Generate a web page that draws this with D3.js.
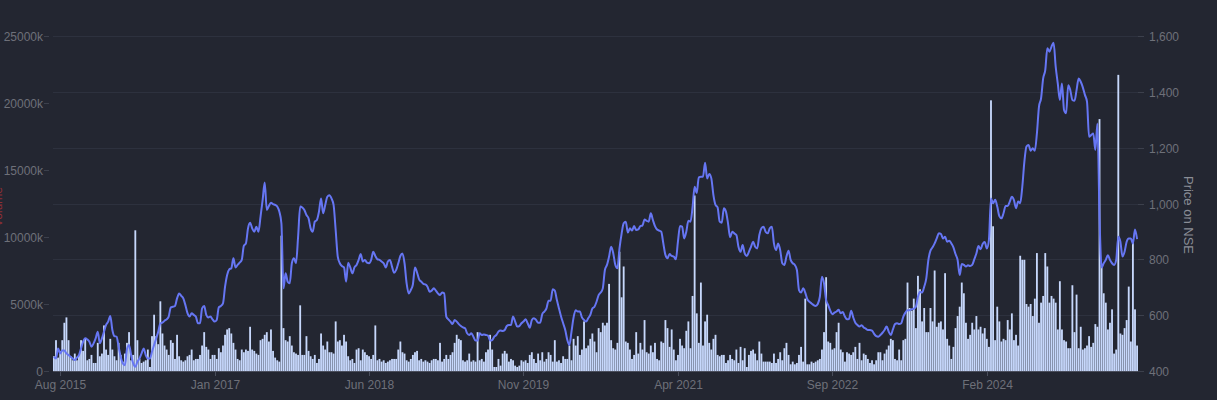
<!DOCTYPE html>
<html><head><meta charset="utf-8">
<script src="https://cdn.jsdelivr.net/npm/d3@7"></script>
<style>
html,body{margin:0;padding:0;background:#232631;}
svg{display:block;}
text{font-family:"Liberation Sans",Arial,sans-serif;}
</style></head>
<body><svg id="chart" width="1217" height="400"></svg>
<script>
// ---- data ----
const startDate = "2015-07-06"; // first weekly category
const tickLabels = ["Aug 2015","Jan 2017","Jun 2018","Nov 2019","Apr 2021","Sep 2022","Feb 2024"];
const volumeTicks = [0,5000,10000,15000,20000,25000]; // in thousands
const priceTicks = [400,600,800,1000,1200,1400,1600];
// weekly traded volume (thousands)
const volume = [
1100,2300,1000,1500,2300,3600,4000,2300,1100,800,
1300,800,1200,2300,1500,2400,800,900,1200,600,
600,2100,1100,1300,3400,1600,1200,2400,1600,1100,
800,2100,1200,700,1300,2100,2900,800,1200,10500,
2300,900,600,700,800,1600,300,2600,4200,2600,
2000,5200,2800,1900,1600,1200,2300,2100,900,2700,
1100,800,700,800,1100,1200,1600,800,900,900,
1200,1900,2900,1800,1600,900,1200,1200,900,1700,
1400,1900,2700,3100,3200,2800,2100,1600,900,800,
1600,1400,1600,1500,3300,1600,1500,1300,1200,2300,
2400,2700,2900,2200,3100,1500,1000,800,700,10100,
3200,2300,2200,2600,1900,1400,1300,1200,4900,1200,
1200,2600,1500,1100,900,1200,600,900,2800,1900,
1600,2200,1400,1400,1300,3700,2200,2300,1900,2700,
2200,1100,800,900,600,1600,1700,800,1600,1400,
1200,1100,900,1200,3400,800,900,700,800,600,
700,800,900,900,900,1600,2200,1400,1300,800,700,900,1200,
1400,1500,800,900,700,800,700,600,800,900,
900,800,2100,700,900,1200,900,1200,1400,2100,
2700,2400,2300,800,700,800,1300,700,800,700,
2900,800,900,700,1400,1600,2700,1600,300,300,
900,400,1300,1500,1300,700,900,800,400,300,
400,800,700,800,600,1200,1400,900,600,1300,
800,1400,700,900,1400,1200,700,2300,700,800,
600,1100,900,900,1900,800,2400,1900,2600,1200,
1600,3700,1700,1900,2400,2800,2200,1400,3200,2900,
3600,3400,3600,6500,2300,1700,1600,2100,8900,5500,
7800,2200,2100,1600,900,1200,2900,1300,2100,1600,
3800,1400,1300,1900,1400,2100,900,800,2200,2100,
3800,3200,1800,3100,1600,800,1200,2400,1900,1700,
3000,3700,1700,5600,13100,4300,2100,6600,1900,3700,
4200,2100,1600,2400,2700,1200,1100,1200,1200,600,
800,1200,900,800,1600,600,1800,800,1700,300,
1200,1500,1600,1300,800,2200,1300,700,700,700,700,600,1300,
600,900,1400,800,1700,2100,1200,500,700,
500,600,1200,1800,700,5400,500,500,700,600,
700,800,900,1600,2900,7000,2200,2100,1600,1700,
2900,3600,1600,1400,700,1400,1300,1200,1400,1800,
900,2100,800,1300,1200,900,600,800,500,800,
1400,1400,800,1300,1600,1900,2400,2300,900,800,
1600,800,2300,2400,6600,4700,4500,5400,3200,7100,
6100,3700,4700,2900,2900,4700,3700,7500,3300,3600,
3700,3100,7300,2400,1900,900,1800,3200,4100,4800,
6600,5800,3600,2400,2700,3600,3100,4100,3100,3300,
2800,3200,2400,1800,20200,10800,2300,4800,3700,2200,
2400,2300,3800,3100,4300,2300,2700,1900,8600,8300,
8300,5000,4800,5000,4100,5400,8800,3600,5100,5600,
8800,7800,5100,5600,5400,5100,3100,6700,3100,2300,
2200,1700,1700,6400,2900,5700,1700,3300,1600,1700,
1900,2600,1800,2100,3500,3300,18800,7900,5800,5100,
3100,3600,4600,1300,1600,22100,2800,2700,3200,3800,
6300,2200,9800,4600,1900
];
// weekly close price on NSE
const price = [
451,445,481,463,473,473,463,457,451,445,
439,448,457,481,505,517,513,505,487,499,
517,541,499,517,541,565,577,597,547,525,
523,487,451,427,421,478,493,457,427,415,
433,445,463,481,457,445,445,469,493,517,
541,571,573,580,585,595,628,630,633,660,
678,669,660,636,607,595,607,601,595,571,
571,624,633,601,592,595,585,577,583,628,
633,642,702,744,764,768,804,771,780,788,
798,848,857,911,931,911,899,917,899,953,
1012,1075,977,991,1003,998,995,989,971,929,
696,750,720,714,786,804,786,881,989,986,
977,959,947,911,899,935,941,971,1018,965,
995,1024,1030,1018,995,905,810,786,776,771,
720,788,771,750,771,780,798,819,792,798,
788,786,798,827,812,800,798,792,786,771,
792,798,774,752,762,786,812,821,786,714,
678,690,710,
771,753,728,720,712,710,702,
684,688,696,688,678,672,681,678,595,585,
577,568,583,577,568,561,556,553,535,529,
535,523,509,509,535,529,531,529,527,509,
511,523,529,541,545,543,547,561,565,565,
595,577,559,561,571,577,585,571,555,583,
589,583,573,573,604,613,624,652,652,693,
688,654,624,595,571,547,511,493,541,592,
618,613,613,592,583,577,589,601,624,630,
648,672,681,696,762,780,810,845,822,780,
768,839,891,929,935,896,911,903,919,905,
907,919,921,943,938,935,965,941,919,907,
903,899,857,816,804,819,812,810,800,863,
919,917,875,899,938,935,986,1060,1038,1094,
1096,1096,1146,1090,1106,1090,1030,995,986,935,
931,983,971,929,879,899,893,887,845,827,
851,821,812,827,845,863,845,839,887,911,
917,899,893,911,917,857,
833,857,833,786,780,810,831,798,786,
780,762,690,681,696,681,657,648,642,636,
633,640,666,738,714,654,636,616,603,609,
613,619,607,611,595,585,587,616,592,573,
565,559,564,556,552,547,547,545,533,525,
523,529,537,547,559,541,529,549,568,571,
568,571,595,609,618,618,621,623,630,666,
684,681,702,732,798,831,843,857,875,893,
891,875,881,863,867,857,843,819,798,744,
783,780,774,779,776,780,800,821,848,836,
855,862,839,869,1018,1001,1013,989,955,947,
965,991,991,1007,1024,1012,983,1007,1001,1060,
1150,1204,1210,1189,1198,1189,1251,1347,1377,1448,
1478,1556,1544,1562,1576,1490,1430,1371,1430,1335,
1323,1424,1406,1371,1368,1406,1448,1436,1416,1389,
1365,1239,1245,1251,1192,1287,953,771,786,798,
815,798,786,780,798,881,863,810,827,863,
875,875,857,907,872
];

// ---- chart ----
(function () {
const N = Math.min(volume.length, price.length);
const dates = d3.timeWeek.every(1).range(new Date(startDate + "T00:00:00"), new Date(2030, 0, 1)).slice(0, N);
const svg = d3.select("#chart");
const mL = 53, mR = 1138, mT = 36, mB = 371;
const axisColor = "#6e7079";

const x = d3.scaleBand().domain(d3.range(N)).range([mL, mR]).paddingInner(0.12).paddingOuter(0);
const yV = d3.scaleLinear().domain([0, 25000]).range([mB, mT]);
const yP = d3.scaleLinear().domain([400, 1600]).range([mB, mT]);

// grid lines (price axis)
svg.append("g").selectAll("line").data(priceTicks.slice(1)).join("line")
  .attr("x1", mL).attr("x2", mR)
  .attr("y1", d => Math.round(yP(d)) + 0.5).attr("y2", d => Math.round(yP(d)) + 0.5)
  .attr("stroke", "#2d313e").attr("stroke-width", 1);

// volume bars
svg.append("g").selectAll("rect").data(volume.slice(0, N)).join("rect")
  .attr("x", (d, i) => x(i)).attr("width", x.bandwidth())
  .attr("y", d => yV(d)).attr("height", d => mB - yV(d))
  .attr("fill", "#c7d8fc");

// price line
const line = d3.line().x((d, i) => x(i) + x.bandwidth() / 2).y(d => yP(d)).curve(d3.curveMonotoneX);
svg.append("path").datum(price.slice(0, N)).attr("d", line)
  .attr("fill", "none").attr("stroke", "#6676f3").attr("stroke-width", 2).attr("stroke-linejoin", "round");

// x axis
const parse = d3.timeParse("%b %Y");
const tickIdx = tickLabels.map(lbl => {
  const p = parse(lbl);
  return dates.findIndex(dt => dt.getFullYear() === p.getFullYear() && dt.getMonth() === p.getMonth());
});
const xAxis = svg.append("g");
xAxis.append("line").attr("x1", mL).attr("x2", mR).attr("y1", mB + 0.5).attr("y2", mB + 0.5)
  .attr("stroke", "#4a4e5c");
tickIdx.forEach((ti, k) => {
  const cx = Math.round(x(ti) + x.bandwidth() / 2) + 0.5;
  xAxis.append("line").attr("x1", cx).attr("x2", cx).attr("y1", mB).attr("y2", mB + 5).attr("stroke", "#4a4e5c");
  xAxis.append("text").attr("x", cx).attr("y", mB + 18).attr("text-anchor", "middle")
    .attr("fill", axisColor).attr("font-size", 12).text(tickLabels[k]);
});

// left axis
const lAxis = svg.append("g");
volumeTicks.forEach(v => {
  const yy = Math.round(yV(v)) + 0.5;
  lAxis.append("line").attr("x1", mL - 9).attr("x2", mL - 4).attr("y1", yy).attr("y2", yy).attr("stroke", "#3c404c");
  lAxis.append("text").attr("x", mL - 10).attr("y", yy + 4).attr("text-anchor", "end")
    .attr("fill", axisColor).attr("font-size", 12).text(v === 0 ? "0" : v + "k");
});
svg.append("text").attr("transform", "translate(2,207) rotate(-90)").attr("text-anchor", "middle")
  .attr("fill", "#8f2f35").attr("font-size", 12).text("Volume");

// right axis
const rAxis = svg.append("g");
const fmt = d3.format(",");
priceTicks.forEach(v => {
  const yy = Math.round(yP(v)) + 0.5;
  rAxis.append("line").attr("x1", mR).attr("x2", mR + 6).attr("y1", yy).attr("y2", yy).attr("stroke", "#3c404c");
  rAxis.append("text").attr("x", mR + 11).attr("y", yy + 4).attr("text-anchor", "start")
    .attr("fill", axisColor).attr("font-size", 12).text(fmt(v));
});
svg.append("text").attr("transform", "translate(1184,215) rotate(90)").attr("text-anchor", "middle")
  .attr("fill", "#8a8d96").attr("font-size", 13).text("Price on NSE");
})();
</script></body></html>
